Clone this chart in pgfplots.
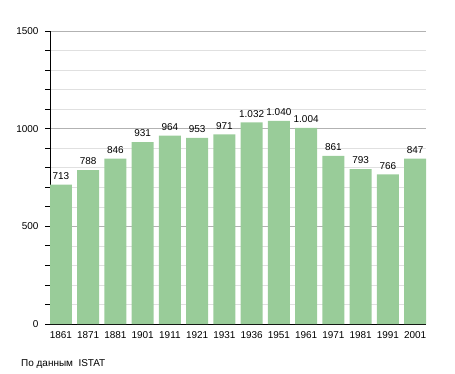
\documentclass[border=0pt]{standalone}
\usepackage{pgfplots}
\pgfplotsset{compat=1.18}
\usepackage{fontspec}
\setmainfont{Liberation Sans}
\definecolor{barg}{RGB}{153,204,153}
\begin{document}
\begin{tikzpicture}[x=1bp,y=1bp]
\useasboundingbox (0,0) rectangle (455,373);
\begin{axis}[
  at={(50bp,49bp)}, anchor=south west,
  scale only axis, width=376bp, height=293bp,
  xmin=-0.4, xmax=13.4, ymin=0, ymax=1500,
  ytick={0,500,1000,1500},
  minor ytick={100,200,300,400,600,700,800,900,1100,1200,1300,1400},
  ymajorgrids, yminorgrids,
  major grid style={color=black!30, line width=0.6pt},
  minor grid style={color=black!12, line width=0.6pt},
  axis x line*=bottom, axis y line*=left,
  axis line style={black, line width=0.8pt, -},
  xtick=data,
  xticklabels={1861,1871,1881,1901,1911,1921,1931,1936,1951,1961,1971,1981,1991,2001},
  x tick label style={font=\fontsize{10}{12}\selectfont, yshift=1pt},
  y tick label style={font=\fontsize{10}{12}\selectfont, xshift=-3bp},
  /pgf/number format/assume math mode=true,
  /pgf/number format/1000 sep={},
  major tick length=5bp, minor tick length=5bp,
  tick align=outside,
  xtick style={draw=none},
  ytick style={black, line width=0.8pt},
  ybar, bar width=0.8,
  bar shift=0pt,
  nodes near coords,
  every node near coord/.append style={font=\fontsize{10}{12}\selectfont, inner sep=1pt, yshift=4bp,
    /pgf/number format/1000 sep={.}, /pgf/number format/assume math mode=true},
  clip=false,
]
\addplot[fill=barg, draw=none, bar width=0.8] coordinates {
(0,713) (1,788) (2,846) (3,931) (4,964) (5,953) (6,971) (7,1032) (8,1040) (9,1004) (10,861) (11,793) (12,766) (13,847)};
\end{axis}
\node[anchor=base west, font=\fontsize{10}{12}\selectfont, inner sep=0] at (21bp,7bp) {По данным\ \ ISTAT};
\end{tikzpicture}
\end{document}
